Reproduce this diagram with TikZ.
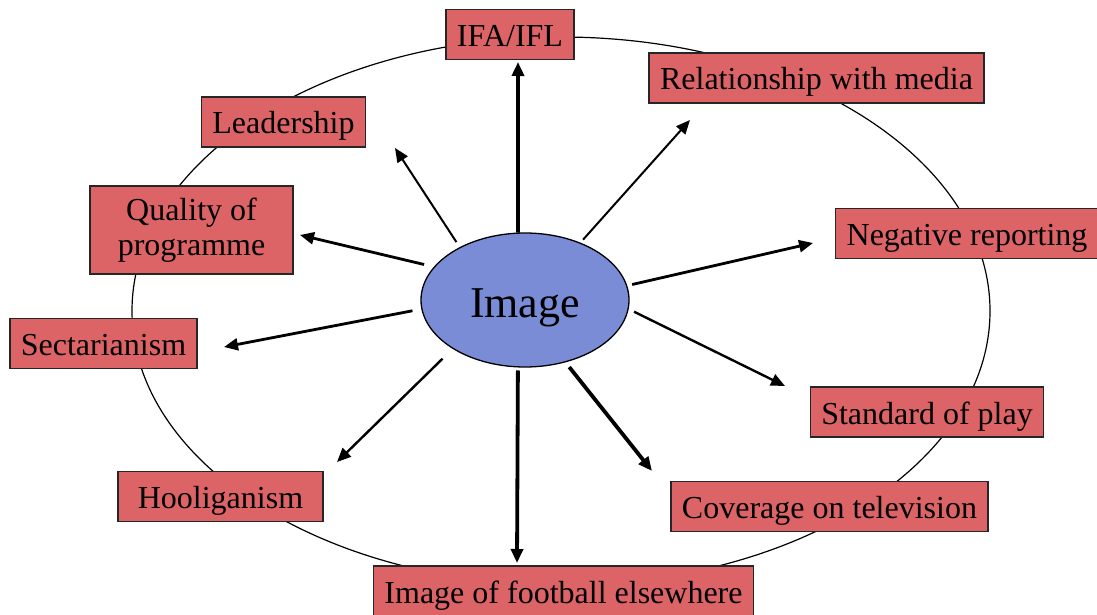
\documentclass[tikz,border=0pt]{standalone}
\usepackage{fontspec}
\setmainfont{Liberation Serif}
\usetikzlibrary{arrows.meta,shapes.geometric}
\definecolor{factorred}{RGB}{221,100,102}
\definecolor{hubblue}{RGB}{122,140,214}
\begin{document}
\begin{tikzpicture}[x=1pt, y=-1pt,
        factor/.style={rectangle, draw=black!85, line width=1.3pt, fill=factorred, minimum height=50pt, inner xsep=11pt, inner ysep=0pt, text height=29pt, text depth=5pt, align=center, font=\fontsize{32}{35}\selectfont},
        hub/.style={ellipse, draw=black, line width=1.3pt, fill=hubblue, minimum width=208pt, minimum height=134pt, inner sep=0pt, text height=40pt, text depth=6pt, font=\fontsize{44}{50}\selectfont},
        link/.style={-{Triangle[length=14pt,width=12pt]}, line width=2pt},
        linkmid/.style={link, line width=2.8pt},
        linkbold/.style={link, line width=3.8pt}
    ]
    \useasboundingbox (0,0) rectangle (1097,615);
    % Ring
    \draw[line width=1.2pt] (561,311) ellipse [x radius=429, y radius=274];
    % Nodes
    \node[hub] (hub) at (525,300) {Image};
    \node[factor] (ifa) at (510,34.5) {IFA/IFL};
    \node[factor] (media) at (816.5,78) {Relationship with media};
    \node[factor] (lead) at (283.5,122) {Leadership};
    \node[factor, text height={}, text depth={}, minimum width=203pt, minimum height=88pt] (quality) at (191.5,230) {Quality of\\programme};
    \node[factor, anchor=west] (negative) at (835,233.5) {Negative reporting};
    \node[factor] (sect) at (103.5,343.5) {Sectarianism};
    \node[factor] (standard) at (927,412) {Standard of play};
    \node[factor, minimum width=205pt] (hool) at (220.5,496.5) {Hooliganism};
    \node[factor] (coverage) at (829.5,506.5) {Coverage on television};
    \node[factor] (elsewhere) at (563.5,591) {Image of football elsewhere};
    % Arrow tips
    \coordinate (tipIfa) at (518,62);
    \coordinate (tipMedia) at (690,120);
    \coordinate (tipLead) at (395,148);
    \coordinate (tipQuality) at (300,235);
    \coordinate (tipNegative) at (813,243);
    \coordinate (tipSect) at (224,347);
    \coordinate (tipStandard) at (785,386);
    \coordinate (tipHool) at (337,462);
    \coordinate (tipCoverage) at (652,471);
    \coordinate (tipElsewhere) at (517,563);
    % Edges
    \draw[linkbold] (hub.96) -- (tipIfa);
    \draw[link, shorten <=4pt] (hub.46) -- (tipMedia);
    \draw[link, shorten <=6pt] (hub.141) -- (tipLead);
    \draw[linkmid, shorten <=10pt] (hub.160) -- (tipQuality);
    \draw[linkmid, shorten <=5pt] (hub.8) -- (tipNegative);
    \draw[linkmid, shorten <=9pt] (hub.185) -- (tipSect);
    \draw[link, line width=2.4pt, shorten <=6pt] (hub.-5) -- (tipStandard);
    \draw[link, line width=2.4pt, shorten <=14pt] (hub.214) -- (tipHool);
    \draw[linkbold, shorten <=6pt] (hub.-57) -- (tipCoverage);
    \draw[linkbold, shorten <=3pt] (hub.-96) -- (tipElsewhere);
\end{tikzpicture}
\end{document}
